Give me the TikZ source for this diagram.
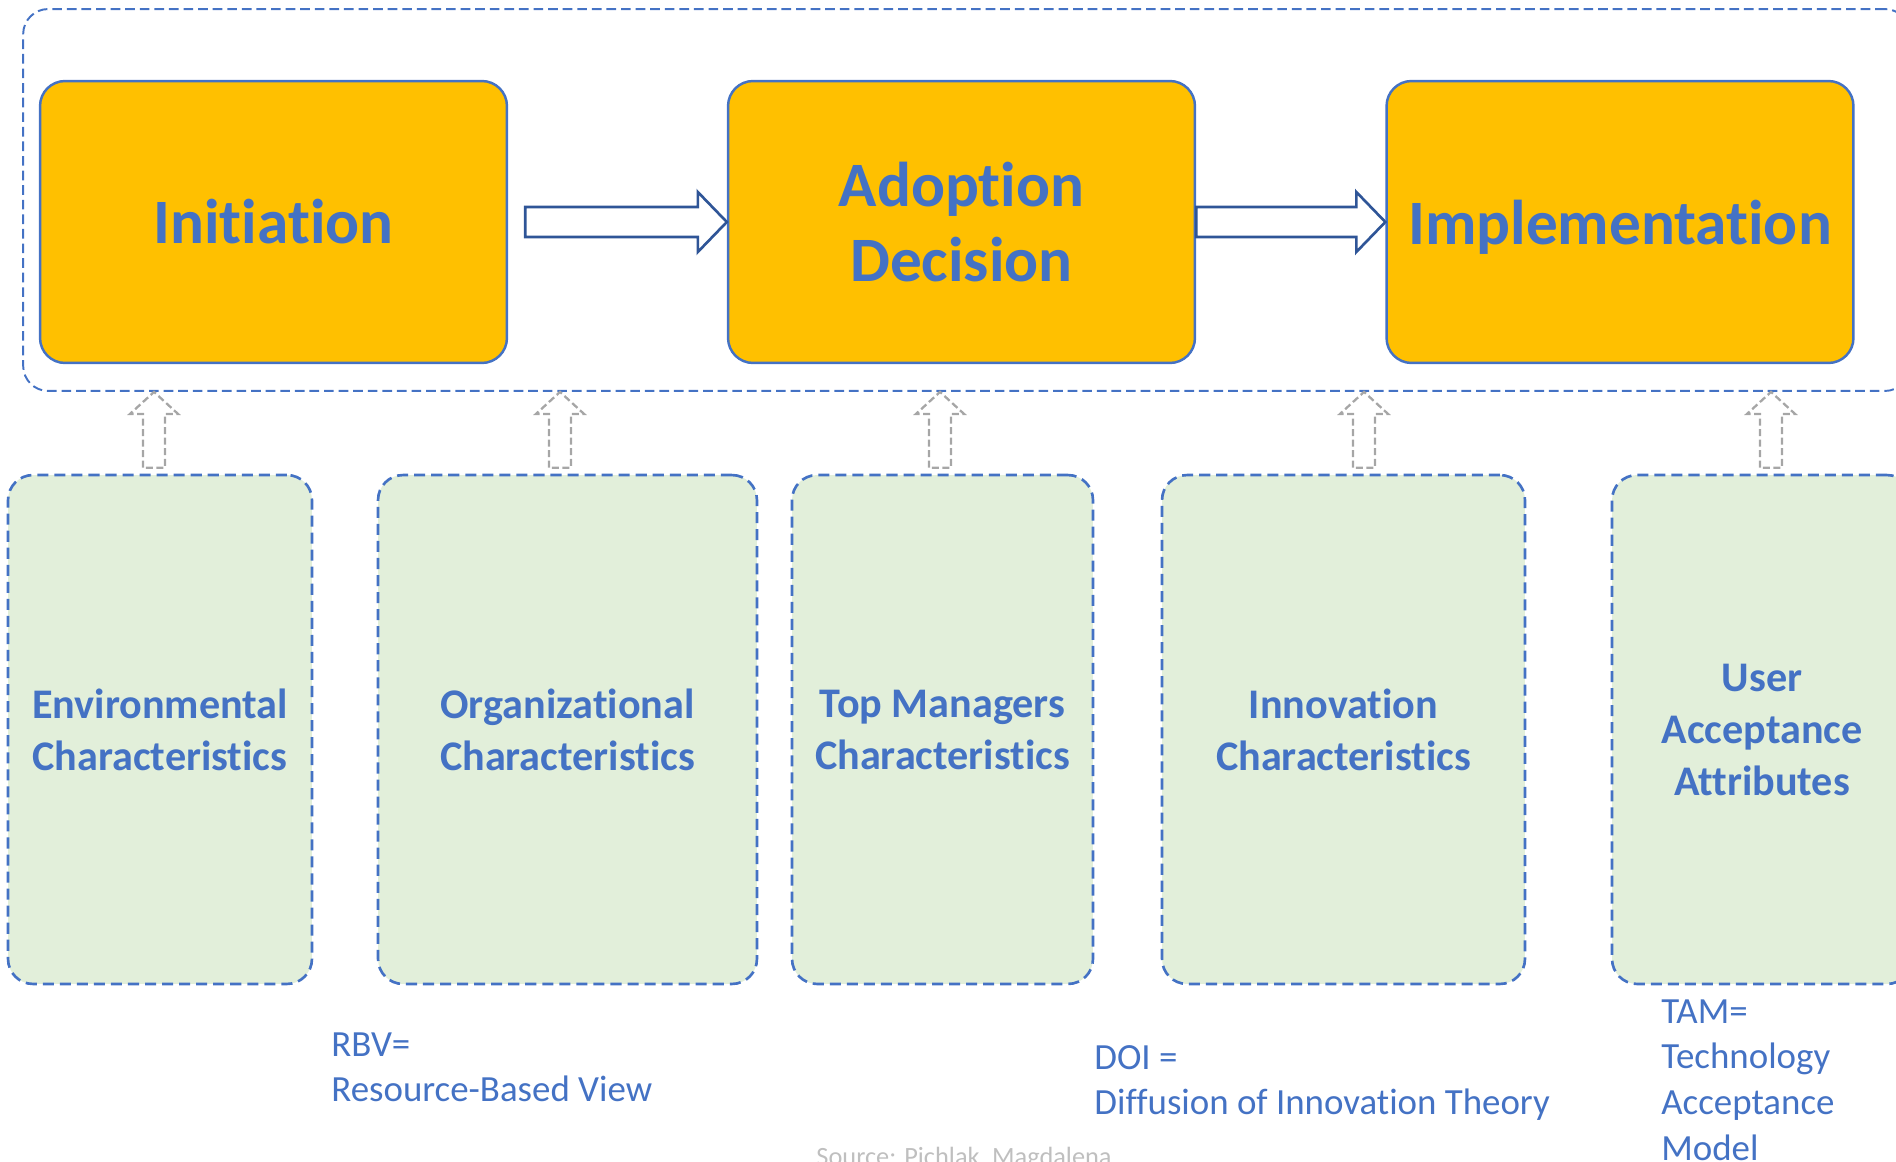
\documentclass[tikz,border=0pt]{standalone}
\usepackage{fontspec}
\setmainfont{Carlito}[Ligatures=NoCommon]
\usetikzlibrary{calc}
\definecolor{lineblue}{HTML}{4472C4}
\definecolor{darkblue}{HTML}{2F5597}
\definecolor{stagefill}{HTML}{FFC000}
\definecolor{factorfill}{HTML}{E2EFDA}
\definecolor{feedgray}{HTML}{A6A6A6}
\definecolor{srcgray}{HTML}{BFBFBF}
\tikzset{
  frame/.style={
    draw=lineblue, line width=1.1pt, dash pattern=on 5.5pt off 2.8pt,
    rounded corners=0.5cm, minimum width=37.74cm, minimum height=7.64cm
  },
  stage/.style={
    draw=lineblue, line width=1.4pt, fill=stagefill, rounded corners=0.5cm,
    minimum width=9.34cm, minimum height=5.64cm, align=center, text=lineblue,
    font=\fontsize{36}{42.7}\selectfont\bfseries
  },
  factor/.style={
    draw=lineblue, line width=1.5pt, dash pattern=on 6.3pt off 3.4pt,
    fill=factorfill, rounded corners=0.5cm, minimum height=10.18cm,
    align=center, text=lineblue, font=\fontsize{24}{29.6}\selectfont\bfseries
  },
  flow/.style={draw=darkblue, line width=1.5pt, fill=white},
  feed/.style={draw=feedgray, line width=1.3pt, dash pattern=on 4pt off 2pt},
  note/.style={
    anchor=north west, inner sep=0pt, align=left, text=lineblue,
    font=\fontsize{21}{26}\selectfont
  },
  source/.style={anchor=base, inner sep=0pt, text=srcgray, font=\fontsize{15}{18}\selectfont},
}
% hollow block arrow, #1 start of shaft, #2 tip
\newcommand{\flowarrow}[2]{%
  \draw[flow] ($(#1)+(0,-15)$) -- ($(#2)+(-29,-15)$) -- ($(#2)+(-29,-30)$) -- (#2)
    -- ($(#2)+(-29,30)$) -- ($(#2)+(-29,15)$) -- ($(#1)+(0,15)$) -- cycle;}
% dashed hollow up arrow, #1 foot, #2 tip
\newcommand{\feedarrow}[2]{%
  \draw[feed] ($(#1)+(-11,-6)$) -- ($(#2)+(-11,22)$) -- ($(#2)+(-24,22)$) -- (#2)
    -- ($(#2)+(24,22)$) -- ($(#2)+(11,22)$) -- ($(#1)+(11,-6)$) -- cycle;}
\begin{document}
\begin{tikzpicture}[x=0.02cm, y=-0.02cm]
  \useasboundingbox (0,0) rectangle (1896,1162);

  % stages
  \node[frame] (stages) at (966.5,200) {};
  \node[stage] (init) at (273.5,222) {Initiation};
  \node[stage] (adopt) at (961.5,222) {Adoption\\Decision};
  \node[stage, text depth=0pt] (impl) at (1620,222) {Implementation};
  \coordinate (a1) at ($(init.east)+(17,0)$);
  \flowarrow{a1}{adopt.west}
  \flowarrow{adopt.east}{impl.west}

  % factors
  \node[factor, minimum width=6.08cm] (env) at (160,729.5) {Environmental\\Characteristics};
  \node[factor, minimum width=7.58cm] (org) at (567.5,729.5) {Organizational\\Characteristics};
  \node[factor, minimum width=6.02cm] (mgr) at (942.5,729.5) {Top Managers\\Characteristics};
  \node[factor, minimum width=7.26cm] (inn) at (1343.5,729.5) {Innovation\\Characteristics};
  \node[factor, minimum width=6.0cm] (usr) at (1762,729.5) {User\\Acceptance\\Attributes};

  \foreach \f/\x in {env/154, org/560, mgr/940, inn/1364, usr/1771} {
    \coordinate (\f-foot) at (\x,0 |- \f.north);
    \coordinate (\f-tip) at (\x,0 |- stages.south);
    \feedarrow{\f-foot}{\f-tip}
  }

  % theories
  \node[note] (rbv) at (331,1032) {RBV=\\Resource-Based View};
  \node[note] (doi) at (1094,1045) {DOI =\\Diffusion of Innovation Theory};
  \node[note] (tam) at (1661,999) {TAM=\\Technology\\Acceptance\\Model};
  \node[source] (src) at (964,1165) {Source: Pichlak, Magdalena};
\end{tikzpicture}
\end{document}
